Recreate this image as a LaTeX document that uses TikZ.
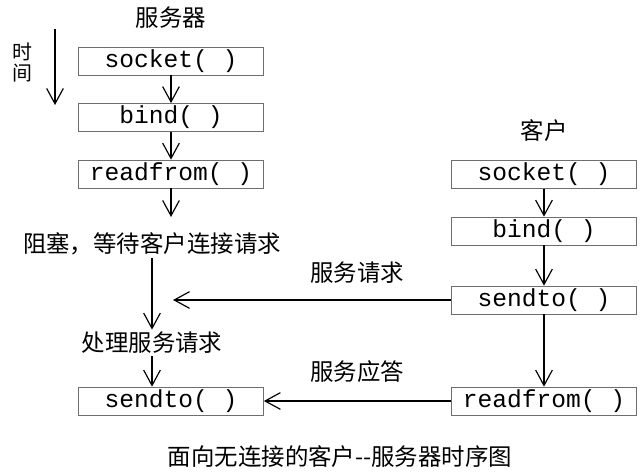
\documentclass[tikz,border=0pt]{standalone}
\usepackage{fontspec}
\setmonofont{Liberation Mono}
\newfontfamily\cjk{Noto Sans CJK SC}
\usetikzlibrary{arrows.meta, positioning}
\definecolor{boxgray}{HTML}{6E6E6E}

\begin{document}
\begin{tikzpicture}[x=0.03cm, y=-0.03cm,
  every node/.style={font=\cjk\fontsize{20}{24}\selectfont, inner sep=2pt},
  fnbox/.style={rectangle, minimum width=5.55cm, minimum height=0.84cm, inner sep=0pt, draw=boxgray, line width=0.6pt, font=\ttfamily\fontsize{21}{24}\selectfont},
  flow/.style={-{Straight Barb[length=4.6mm, width=5mm]}, line width=1pt, black},
  timechar/.style={font=\cjk\fontsize{17}{20}\selectfont},
]
\useasboundingbox (0,0) rectangle (640,473);

% Server side
\node (srvtitle) at (171,18) {服务器};
\node[timechar] (shi) at (22,52) {时};
\node[timechar] (jian) at (22,73) {间};
\coordinate (tstart) at (55,29);
\coordinate (tend) at (55,105);
\node[fnbox] (ssock) at (171,61) {socket( )};
\node[fnbox] (sbind) at (171,117.5) {bind( )};
\node[fnbox] (sread) at (171,174) {readfrom( )};
\coordinate (swait) at (171,217);
\node (block) at (152,244) {阻塞，等待客户连接请求};
\node (handle) at (152,343) {处理服务请求};
\node[fnbox] (ssend) at (171,401) {sendto( )};

% Client side
\node (clititle) at (544,131) {客户};
\node[fnbox] (csock) at (544,174.5) {socket( )};
\node[fnbox] (cbind) at (544,231) {bind( )};
\node[fnbox] (csend) at (544,300) {sendto( )};
\node[fnbox] (cread) at (544,401) {readfrom( )};

% Messages
\node (req) at (357,273) {服务请求};
\node (resp) at (357,372) {服务应答};
\coordinate (reqend) at (173,300);
\node (caption) at (340,457) {面向无连接的客户-{}-服务器时序图};

\draw[flow] (tstart) -- (tend);
\draw[flow] (ssock) -- (sbind);
\draw[flow] (sbind) -- (sread);
\draw[flow] (sread) -- (swait);
\draw[flow] (block) -- (handle);
\draw[flow] (handle) -- (handle.south |- ssend.north);
\draw[flow] (csock) -- (cbind);
\draw[flow] (cbind) -- (csend);
\draw[flow] (csend) -- (cread);
\draw[flow] (csend) -- (reqend);
\draw[flow] (cread) -- (ssend);

\end{tikzpicture}
\end{document}
